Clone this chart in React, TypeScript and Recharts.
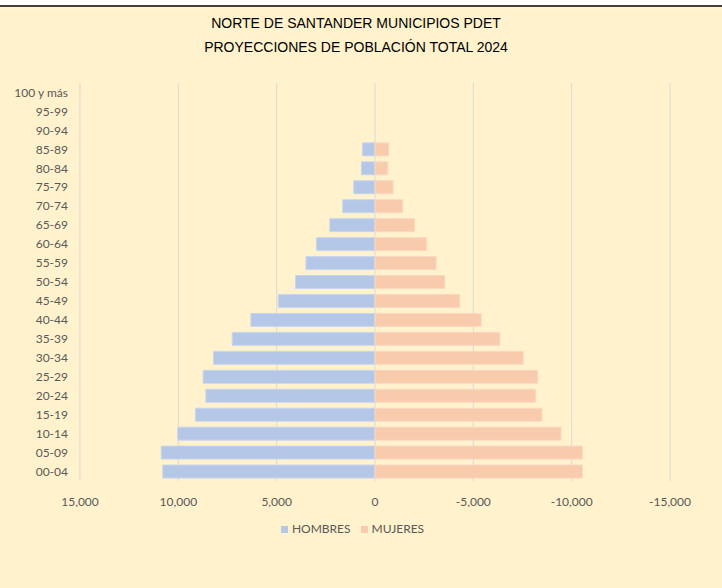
import { BarChart, Bar, XAxis, YAxis, CartesianGrid, Legend } from "recharts";

// age groups, bottom to top
const ageGroups = ["00-04", "05-09", "10-14", "15-19", "20-24", "25-29", "30-34", "35-39", "40-44", "45-49", "50-54", "55-59", "60-64", "65-69", "70-74", "75-79", "80-84", "85-89", "90-94", "95-99", "100 y más"];
const hombres = [10790, 10870, 10030, 9130, 8600, 8740, 8210, 7260, 6310, 4920, 4040, 3510, 2980, 2300, 1640, 1080, 690, 640, 0, 0, 0];
const mujeres = [10540, 10540, 9460, 8490, 8170, 8270, 7540, 6350, 5400, 4310, 3550, 3110, 2630, 2010, 1400, 920, 650, 700, 0, 0, 0];
const xTicks = [15000, 10000, 5000, 0, -5000, -10000, -15000];

const data = ageGroups.map((g, i) => ({ grupo: g, HOMBRES: hombres[i], MUJERES: -mujeres[i] }));

const axisFont = "Lato, 'Open Sans', sans-serif";
const textGrey = "#595959";

export default function App() {
  return (
    <div style={{ position: "absolute", left: 0, top: 0, width: 722, height: 588, background: "#ffffff" }}>
      <div style={{ position: "absolute", left: 0, top: 5, width: 722, height: 583, background: "#FFF2CC", borderTop: "2px solid #404040", boxSizing: "border-box" }}>
        <div style={{ position: "absolute", top: 4, left: 0, width: 712, textAlign: "center", fontFamily: "'Liberation Sans', Arial, sans-serif", fontSize: 14, color: "#000", lineHeight: "24px" }}>
          <div>NORTE DE SANTANDER MUNICIPIOS PDET</div>
          <div>PROYECCIONES DE POBLACIÓN TOTAL 2024</div>
        </div>
      </div>
      <div style={{ position: "absolute", left: 0, top: 0 }}>
        <BarChart
          width={722}
          height={588}
          data={data}
          layout="vertical"
          stackOffset="sign"
          barCategoryGap={3}
          margin={{ top: 83, right: 52, bottom: 77, left: 10 }}
        >
          <CartesianGrid horizontal={false} stroke="#D9D9D9" />
          <XAxis
            type="number"
            domain={[-15000, 15000]}
            ticks={xTicks}
            reversed
            axisLine={false}
            tickLine={false}
            tickMargin={10}
            height={30}
            tick={{ fill: textGrey, fontSize: 12, fontFamily: axisFont }}
            tickFormatter={(v: number) => v.toLocaleString("en-US")}
          />
          <YAxis
            type="category"
            dataKey="grupo"
            reversed
            width={70}
            axisLine={false}
            tickLine={false}
            tickMargin={6}
            interval={0}
            tick={{ fill: textGrey, fontSize: 12, fontFamily: axisFont }}
          />
          <Legend
            verticalAlign="middle"
            align="center"
            iconType="square"
            iconSize={7}
            wrapperStyle={{ top: 521, left: 0, width: 715, fontFamily: axisFont, fontSize: 12 }}
            formatter={(value: string) => <span style={{ color: textGrey }}>{value}</span>}
          />
          <Bar dataKey="HOMBRES" stackId="p" fill="#B4C7E7" stroke="#C9D6EE" strokeWidth={1} isAnimationActive={false} />
          <Bar dataKey="MUJERES" stackId="p" fill="#F8CBAD" stroke="#FAD8C2" strokeWidth={1} isAnimationActive={false} />
        </BarChart>
      </div>
    </div>
  );
}
